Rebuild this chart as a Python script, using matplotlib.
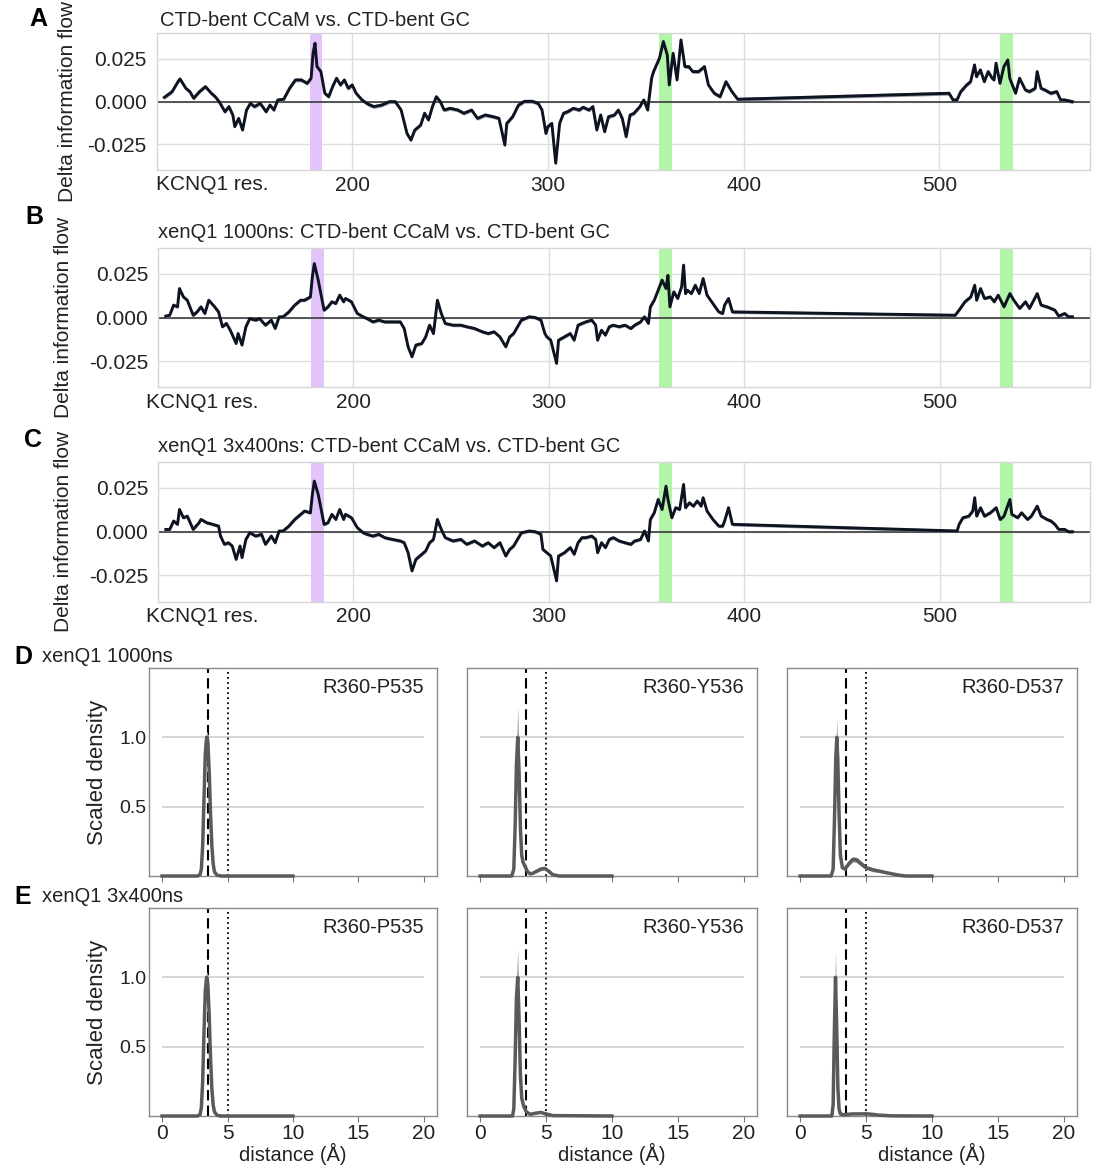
import numpy as np
import matplotlib
matplotlib.use('Agg')
import matplotlib.pyplot as plt

plt.rcParams['font.family'] = ['Liberation Sans', 'DejaVu Sans']

W, H = 1093, 1167

# ---- A-C: delta information flow along KCNQ1 residues ----
res_a = [104, 108, 111, 112, 115, 117, 119, 122, 125, 128,
         130, 132, 135, 137, 139, 140, 142, 144, 146, 148,
         150, 153, 156, 158, 160, 162, 165, 168, 171, 174,
         177, 179, 180, 181, 182, 184, 186, 188, 190, 192,
         194, 196, 198, 200, 202, 205, 208, 211, 215, 219,
         222, 225, 228, 230, 232, 235, 237, 239, 241, 243,
         245, 247, 250, 254, 257, 261, 264, 268, 272, 275,
         278, 279, 282, 285, 288, 292, 295, 297, 299, 300,
         302, 304, 306, 308, 310, 313, 316, 318, 321, 323,
         325, 327, 329, 331, 334, 336, 338, 340, 342, 344,
         347, 349, 351, 353, 354, 357, 359, 361, 362, 364,
         366, 368, 370, 372, 374, 377, 380, 382, 385, 388,
         390, 391, 394, 397, 505, 507, 509, 511, 514, 516,
         518, 519, 521, 523, 525, 527, 528, 529, 531, 533,
         535, 536, 539, 541, 544, 546, 549, 550, 552, 554,
         557, 560, 562, 564, 568]
flow_a = [0.0025, 0.0059, 0.0117, 0.0133, 0.0078, 0.0059, 0.0020, 0.0059, 0.0088, 0.0049,
          0.0029, 0.0, -0.0059, -0.0029, -0.0078, -0.0146, -0.0098, -0.0166, -0.0049, -0.0010,
          -0.0029, -0.0010, -0.0059, -0.0020, -0.0049, 0.0010, 0.0014, 0.0078, 0.0127, 0.0127,
          0.0107, 0.0137, 0.0283, 0.0342, 0.0205, 0.0176, 0.0049, 0.0029, 0.0088, 0.0137,
          0.0098, 0.0127, 0.0078, 0.0098, 0.0049, 0.0010, -0.0014, -0.0029, -0.0020, 0.0,
          0.0, -0.0049, -0.0186, -0.0225, -0.0166, -0.0137, -0.0068, -0.0107, -0.0029, 0.0029,
          0.0, -0.0049, -0.0039, -0.0049, -0.0068, -0.0049, -0.0098, -0.0078, -0.0088, -0.0098,
          -0.0254, -0.0127, -0.0088, -0.0020, 0.0002, 0.0002, -0.0010, -0.0049, -0.0186, -0.0146,
          -0.0127, -0.0360, -0.0127, -0.0068, -0.0059, -0.0039, -0.0049, -0.0033, -0.0049, -0.0029,
          -0.0166, -0.0078, -0.0176, -0.0088, -0.0078, -0.0049, -0.0098, -0.0205, -0.0078, -0.0068,
          -0.0029, 0.0010, -0.0049, 0.0137, 0.0176, 0.0254, 0.0352, 0.0273, 0.0098, 0.0283,
          0.0127, 0.0361, 0.0205, 0.0205, 0.0176, 0.0176, 0.0205, 0.0098, 0.0049, 0.0029,
          0.0088, 0.0117, 0.0059, 0.0014, 0.0049, 0.0010, 0.0010, 0.0059, 0.0098, 0.0117,
          0.0215, 0.0146, 0.0186, 0.0117, 0.0176, 0.0137, 0.0127, 0.0225, 0.0107, 0.0205,
          0.0244, 0.0137, 0.0049, 0.0137, 0.0068, 0.0059, 0.0078, 0.0176, 0.0078, 0.0068,
          0.0049, 0.0059, 0.0010, 0.0010, 0.0]

res_b = [104, 106, 108, 110, 111, 113, 115, 118, 120, 122,
         124, 126, 129, 131, 133, 135, 137, 140, 141, 143,
         145, 147, 150, 152, 155, 158, 160, 162, 164, 167,
         170, 173, 175, 178, 179, 180, 182, 183, 185, 187,
         189, 191, 193, 195, 196, 199, 202, 205, 207, 210,
         213, 216, 220, 224, 226, 228, 230, 232, 235, 237,
         239, 241, 243, 245, 247, 251, 255, 258, 262, 266,
         269, 272, 275, 278, 280, 282, 286, 290, 293, 296,
         298, 299, 301, 304, 305, 308, 311, 313, 315, 317,
         319, 322, 324, 325, 327, 329, 331, 333, 336, 339,
         342, 344, 347, 349, 351, 352, 354, 356, 358, 360,
         361, 362, 364, 366, 368, 369, 370, 371, 373, 375,
         377, 379, 381, 384, 387, 389, 390, 392, 394, 508,
         510, 513, 516, 518, 519, 521, 523, 526, 528, 530,
         533, 536, 538, 541, 544, 546, 550, 552, 555, 557,
         559, 561, 564, 566, 568]
flow_b = [0.0008, 0.0013, 0.0071, 0.0061, 0.0166, 0.0118, 0.0099, 0.0013, 0.0032, 0.0061,
          0.0023, 0.0099, 0.0061, 0.0032, -0.0053, -0.0034, -0.0073, -0.0149, -0.0092, -0.0158,
          -0.0053, -0.0006, -0.0015, -0.0006, -0.0044, -0.0015, -0.0063, 0.0004, 0.0004, 0.0032,
          0.0071, 0.0099, 0.0099, 0.0118, 0.0233, 0.0309, 0.0214, 0.0156, 0.0042, 0.0061,
          0.0090, 0.0080, 0.0128, 0.0090, 0.0109, 0.0090, 0.0023, 0.0004, -0.0006, -0.0025,
          -0.0015, -0.0025, -0.0025, -0.0025, -0.0063, -0.0168, -0.0225, -0.0158, -0.0149, -0.0111,
          -0.0044, -0.0092, 0.0099, 0.0023, -0.0034, -0.0044, -0.0044, -0.0053, -0.0063, -0.0082,
          -0.0092, -0.0082, -0.0111, -0.0168, -0.0111, -0.0092, -0.0015, 0.0004, 0.0, -0.0015,
          -0.0092, -0.0111, -0.0130, -0.0263, -0.0130, -0.0111, -0.0092, -0.0130, -0.0044, -0.0034,
          -0.0025, -0.0015, -0.0044, -0.0130, -0.0073, -0.0101, -0.0053, -0.0044, -0.0053, -0.0044,
          -0.0063, -0.0044, -0.0025, 0.0004, -0.0034, 0.0061, 0.0099, 0.0156, 0.0214, 0.0166,
          0.0242, 0.0061, 0.0147, 0.0109, 0.0176, 0.0300, 0.0137, 0.0156, 0.0137, 0.0185,
          0.0137, 0.0223, 0.0128, 0.0080, 0.0032, 0.0023, 0.0071, 0.0109, 0.0032, 0.0013,
          0.0042, 0.0090, 0.0118, 0.0185, 0.0099, 0.0166, 0.0109, 0.0118, 0.0090, 0.0128,
          0.0061, 0.0137, 0.0099, 0.0052, 0.0090, 0.0052, 0.0137, 0.0071, 0.0061, 0.0052,
          0.0042, 0.0008, 0.0023, 0.0004, 0.0004]

res_c = [104, 106, 108, 110, 111, 113, 115, 118, 121, 122,
         125, 128, 131, 132, 134, 136, 138, 140, 142, 143,
         145, 147, 150, 153, 155, 158, 160, 162, 164, 167,
         170, 173, 175, 178, 179, 180, 182, 183, 185, 187,
         189, 191, 193, 195, 196, 199, 202, 205, 207, 210,
         213, 216, 220, 224, 226, 228, 230, 232, 235, 237,
         239, 241, 243, 245, 247, 251, 255, 258, 262, 266,
         269, 272, 275, 278, 280, 282, 286, 290, 293, 296,
         297, 299, 301, 304, 305, 308, 311, 313, 315, 317,
         319, 322, 324, 325, 327, 329, 331, 333, 336, 339,
         342, 344, 347, 349, 351, 352, 354, 356, 358, 360,
         361, 363, 365, 367, 369, 370, 372, 374, 376, 378,
         379, 381, 384, 387, 389, 390, 392, 394, 509, 510,
         512, 515, 517, 518, 519, 521, 523, 526, 529, 531,
         533, 536, 537, 540, 542, 545, 547, 550, 552, 555,
         557, 559, 561, 564, 566, 568]
flow_c = [0.0013, 0.0013, 0.0061, 0.0042, 0.0127, 0.0080, 0.0089, 0.0013, 0.0051, 0.0070,
          0.0051, 0.0042, 0.0032, -0.0025, -0.0072, -0.0063, -0.0082, -0.0158, -0.0082, -0.0148,
          -0.0044, -0.0006, -0.0025, -0.0015, -0.0072, -0.0025, -0.0063, 0.0004, 0.0004, 0.0032,
          0.0070, 0.0099, 0.0118, 0.0108, 0.0213, 0.0289, 0.0213, 0.0156, 0.0042, 0.0051,
          0.0099, 0.0070, 0.0127, 0.0070, 0.0099, 0.0080, 0.0023, -0.0006, -0.0015, -0.0025,
          -0.0015, -0.0034, -0.0044, -0.0053, -0.0063, -0.0120, -0.0224, -0.0158, -0.0129, -0.0110,
          -0.0063, -0.0044, 0.0070, 0.0013, -0.0034, -0.0053, -0.0044, -0.0072, -0.0053, -0.0082,
          -0.0063, -0.0091, -0.0063, -0.0139, -0.0101, -0.0082, -0.0006, 0.0004, 0.0, -0.0015,
          -0.0101, -0.0120, -0.0139, -0.0281, -0.0139, -0.0120, -0.0091, -0.0129, -0.0063, -0.0034,
          -0.0034, -0.0025, -0.0044, -0.0120, -0.0063, -0.0091, -0.0044, -0.0034, -0.0053, -0.0063,
          -0.0072, -0.0053, -0.0044, 0.0004, -0.0053, 0.0070, 0.0108, 0.0184, 0.0127, 0.0260,
          0.0184, 0.0080, 0.0137, 0.0127, 0.0270, 0.0137, 0.0165, 0.0146, 0.0175, 0.0146,
          0.0194, 0.0118, 0.0070, 0.0032, 0.0032, 0.0061, 0.0137, 0.0042, 0.0004, 0.0042,
          0.0080, 0.0089, 0.0118, 0.0194, 0.0089, 0.0137, 0.0089, 0.0108, 0.0137, 0.0070,
          0.0089, 0.0184, 0.0099, 0.0080, 0.0108, 0.0070, 0.0089, 0.0146, 0.0089, 0.0070,
          0.0061, 0.0042, 0.0013, 0.0013, 0.0, 0.0]

spread_abc = [0.0011, 0.0009, 0.0009]   # half width of the shaded band
titles_abc = ['CTD-bent CCaM vs. CTD-bent GC',
              'xenQ1 1000ns: CTD-bent CCaM vs. CTD-bent GC',
              'xenQ1 3x400ns: CTD-bent CCaM vs. CTD-bent GC']
purple_span = (178.5, 184.8)
green_spans = [(356.6, 363.2), (531.1, 537.6)]

# ---- D/E: scaled density of R360 - partner distances ----
pairs = ['R360-P535', 'R360-Y536', 'R360-D537']
row_names = ['xenQ1 1000ns', 'xenQ1 3x400ns']
cutoff_dashed = 3.5
cutoff_dotted = 5.0

d1_p535_x = [0, 2.7, 2.9, 3.0, 3.1, 3.2, 3.3, 3.4, 3.45, 3.5, 3.6, 3.7, 3.8, 3.9, 4.0, 4.2, 4.5, 10]
d1_p535_y = [0, 0, 0.01, 0.05, 0.22, 0.55, 0.88, 1.0, 1.0, 0.96, 0.75, 0.45, 0.22, 0.09, 0.03, 0.006, 0, 0]
d1_p535_sd = [0, 0, 0.005, 0.02, 0.04, 0.05, 0.05, 0.04, 0.04, 0.04, 0.04, 0.03, 0.02, 0.01, 0.005, 0.002, 0, 0]

d1_y536_x = [0, 2.4, 2.55, 2.65, 2.75, 2.85, 2.95, 3.05, 3.15, 3.25, 3.4, 3.6, 3.8, 4.0, 4.3, 4.6, 4.9, 5.2, 5.5, 6.0, 10]
d1_y536_y = [0, 0, 0.05, 0.35, 0.8, 1.0, 0.75, 0.35, 0.15, 0.1, 0.07, 0.03, 0.015, 0.02, 0.035, 0.05, 0.055, 0.035, 0.01, 0, 0]
d1_y536_sd = [0, 0, 0.01, 0.07, 0.15, 0.22, 0.15, 0.07, 0.03, 0.02, 0.01, 0.01, 0.005, 0.008, 0.01, 0.012, 0.012, 0.01, 0.005, 0, 0]

d1_d537_x = [0, 2.35, 2.5, 2.6, 2.7, 2.78, 2.85, 2.95, 3.05, 3.2, 3.4, 3.7, 4.0, 4.3, 4.6, 5.0, 5.5, 6.0, 6.5, 7.0, 7.5, 8.0, 10]
d1_d537_y = [0, 0, 0.05, 0.4, 0.85, 1.0, 0.85, 0.45, 0.15, 0.06, 0.05, 0.09, 0.12, 0.115, 0.09, 0.06, 0.045, 0.035, 0.025, 0.015, 0.006, 0, 0]
d1_d537_sd = [0, 0, 0.01, 0.06, 0.1, 0.13, 0.1, 0.06, 0.02, 0.01, 0.01, 0.015, 0.02, 0.02, 0.02, 0.015, 0.015, 0.01, 0.01, 0.005, 0.003, 0, 0]

d2_p535_x = [0, 2.7, 2.9, 3.0, 3.1, 3.2, 3.3, 3.4, 3.45, 3.5, 3.6, 3.7, 3.8, 3.9, 4.0, 4.2, 4.5, 10]
d2_p535_y = [0, 0, 0.01, 0.06, 0.25, 0.6, 0.9, 1.0, 0.99, 0.94, 0.72, 0.42, 0.2, 0.08, 0.03, 0.005, 0, 0]
d2_p535_sd = [0, 0, 0.005, 0.02, 0.04, 0.05, 0.05, 0.04, 0.04, 0.04, 0.04, 0.03, 0.02, 0.01, 0.005, 0.002, 0, 0]

d2_y536_x = [0, 2.45, 2.55, 2.65, 2.75, 2.85, 2.95, 3.05, 3.15, 3.3, 3.5, 3.8, 4.2, 4.6, 5.0, 5.5, 10]
d2_y536_y = [0, 0, 0.05, 0.4, 0.85, 1.0, 0.7, 0.3, 0.13, 0.07, 0.03, 0.012, 0.02, 0.026, 0.015, 0.003, 0]
d2_y536_sd = [0, 0, 0.01, 0.08, 0.15, 0.2, 0.14, 0.06, 0.03, 0.015, 0.008, 0.004, 0.005, 0.006, 0.004, 0.001, 0]

d2_d537_x = [0, 2.4, 2.5, 2.58, 2.68, 2.78, 2.86, 2.95, 3.05, 3.3, 3.6, 4.0, 4.5, 5.0, 5.5, 6.0, 7.0, 10]
d2_d537_y = [0, 0, 0.08, 0.55, 1.0, 0.6, 0.2, 0.05, 0.015, 0.008, 0.012, 0.015, 0.015, 0.016, 0.012, 0.006, 0.001, 0]
d2_d537_sd = [0, 0, 0.02, 0.12, 0.2, 0.12, 0.04, 0.01, 0.004, 0.002, 0.003, 0.004, 0.004, 0.004, 0.003, 0.002, 0, 0]

dens_rows = [
    [(d1_p535_x, d1_p535_y, d1_p535_sd), (d1_y536_x, d1_y536_y, d1_y536_sd), (d1_d537_x, d1_d537_y, d1_d537_sd)],
    [(d2_p535_x, d2_p535_y, d2_p535_sd), (d2_y536_x, d2_y536_y, d2_y536_sd), (d2_d537_x, d2_d537_y, d2_d537_sd)],
]


def rect(x0, y0, x1, y1):
    # pixel box (top-left origin) -> figure fraction
    return [x0 / W, 1 - y1 / H, (x1 - x0) / W, (y1 - y0) / H]


fig = plt.figure(figsize=(W / 100, H / 100), dpi=100)

# ---- panels A-C ----
flow_boxes = [(156.5, 33.3, 1090, 170), (158, 247.7, 1090, 387.3), (158, 461.7, 1090, 601.7)]
flow_data = [(res_a, flow_a), (res_b, flow_b), (res_c, flow_c)]
letters_abc = [('A', 38, 19), ('B', 34, 217), ('C', 33, 440)]
title_x = [160, 158, 158]
title_y = [20.5, 233, 447]
kcnq_x = [156, 146, 146]
ylab_x = [77, 73, 73]

for i, box in enumerate(flow_boxes):
    ax = fig.add_axes(rect(*box))
    res, flow = np.array(flow_data[i][0]), np.array(flow_data[i][1])
    ax.axvspan(*purple_span, color='#e2c4fb', lw=0, zorder=1)
    for g in green_spans:
        ax.axvspan(*g, color='#b3f5a8', lw=0, zorder=1)
    ax.axhline(0, color='#3a3a3a', lw=1.2, zorder=2)
    ax.fill_between(res, flow - spread_abc[i], flow + spread_abc[i],
                    color='#6b7385', alpha=0.7, lw=0, zorder=3)
    ax.plot(res, flow, color='#0d1321', lw=2.1, zorder=4)
    ax.set_xlim(100, 577)
    ax.set_ylim(-0.04, 0.04)
    ax.set_xticks([200, 300, 400, 500])
    ax.set_yticks([-0.025, 0, 0.025])
    ax.set_yticklabels(['-0.025', '0.000', '0.025'])
    ax.grid(True, color='#dddddd', lw=1)
    ax.set_axisbelow(True)
    ax.tick_params(length=0, labelsize=15, colors='#222222')
    ax.tick_params(axis='y', pad=7)
    ax.tick_params(axis='x', pad=4)
    for sp in ax.spines.values():
        sp.set_color('#d6d6d6')
        sp.set_linewidth(1)
    ax.set_ylabel('Delta information flow', fontsize=15, color='#222222')
    ax.yaxis.set_label_coords((ylab_x[i] - box[0]) / (box[2] - box[0]), 0.5)
    fig.text(title_x[i] / W, 1 - title_y[i] / H, titles_abc[i], fontsize=14.5,
             ha='left', va='center', color='#222222')
    fig.text(kcnq_x[i] / W, 1 - (box[3] + 15) / H, 'KCNQ1 res.', fontsize=15,
             ha='left', va='center', color='#222222')
    L, lx, ly = letters_abc[i]
    fig.text(lx / W, 1 - ly / H, L, fontsize=18, fontweight='bold', ha='center', va='center')

# ---- panels D/E ----
col_px = [(149, 437), (467, 757), (787, 1077)]
row_px = [(668, 876), (908, 1116)]
row_letters = [('D', 23, 657), ('E', 23, 897)]

for r, (y0, y1) in enumerate(row_px):
    for c, (x0, x1) in enumerate(col_px):
        ax = fig.add_axes(rect(x0, y0, x1, y1))
        dx, dy, dsd = (np.array(v) for v in dens_rows[r][c])
        ax.hlines([0.5, 1.0], 0, 20, color='#d0d0d0', lw=1.2, zorder=1)
        ax.axvline(cutoff_dashed, color='black', lw=1.5, ls=(0, (5, 2.5)), zorder=2)
        ax.axvline(cutoff_dotted, color='black', lw=1.3, ls=(0, (1, 1.8)), zorder=2)
        ax.fill_between(dx, dy - dsd, dy + dsd, color='#a8a8a8', lw=0, zorder=3)
        ax.plot(dx, dy, color='#5a5a5a', lw=2.5, zorder=4, clip_on=False)
        ax.set_xlim(-1, 21)
        ax.set_ylim(0, 1.5)
        ax.set_xticks([0, 5, 10, 15, 20])
        ax.set_yticks([0.5, 1.0])
        ax.tick_params(axis='x', direction='out', length=4, color='#777777',
                       labelsize=15, pad=1.5, labelcolor='#222222')
        ax.tick_params(axis='y', length=0, labelsize=14, pad=2, labelcolor='#222222')
        if r == 0:
            ax.set_xticklabels([])
        else:
            ax.set_xlabel('distance (Å)', fontsize=14.5, color='#222222', labelpad=0)
        if c == 0:
            ax.set_ylabel('Scaled density', fontsize=16, color='#222222')
            ax.yaxis.set_label_coords((108 - x0) / (x1 - x0), 0.5)
        else:
            ax.set_yticklabels([])
        for sp in ax.spines.values():
            sp.set_color('#8a8a8a')
            sp.set_linewidth(1)
        ax.text(20, 1.36, pairs[c], fontsize=14.5, ha='right', va='center', color='#222222')
    L, lx, ly = row_letters[r]
    fig.text(lx / W, 1 - ly / H, L, fontsize=18, fontweight='bold', ha='center', va='center')
    fig.text(42 / W, 1 - ly / H, row_names[r], fontsize=14.5, ha='left', va='center', color='#222222')

fig.savefig('out.png', dpi=100)
